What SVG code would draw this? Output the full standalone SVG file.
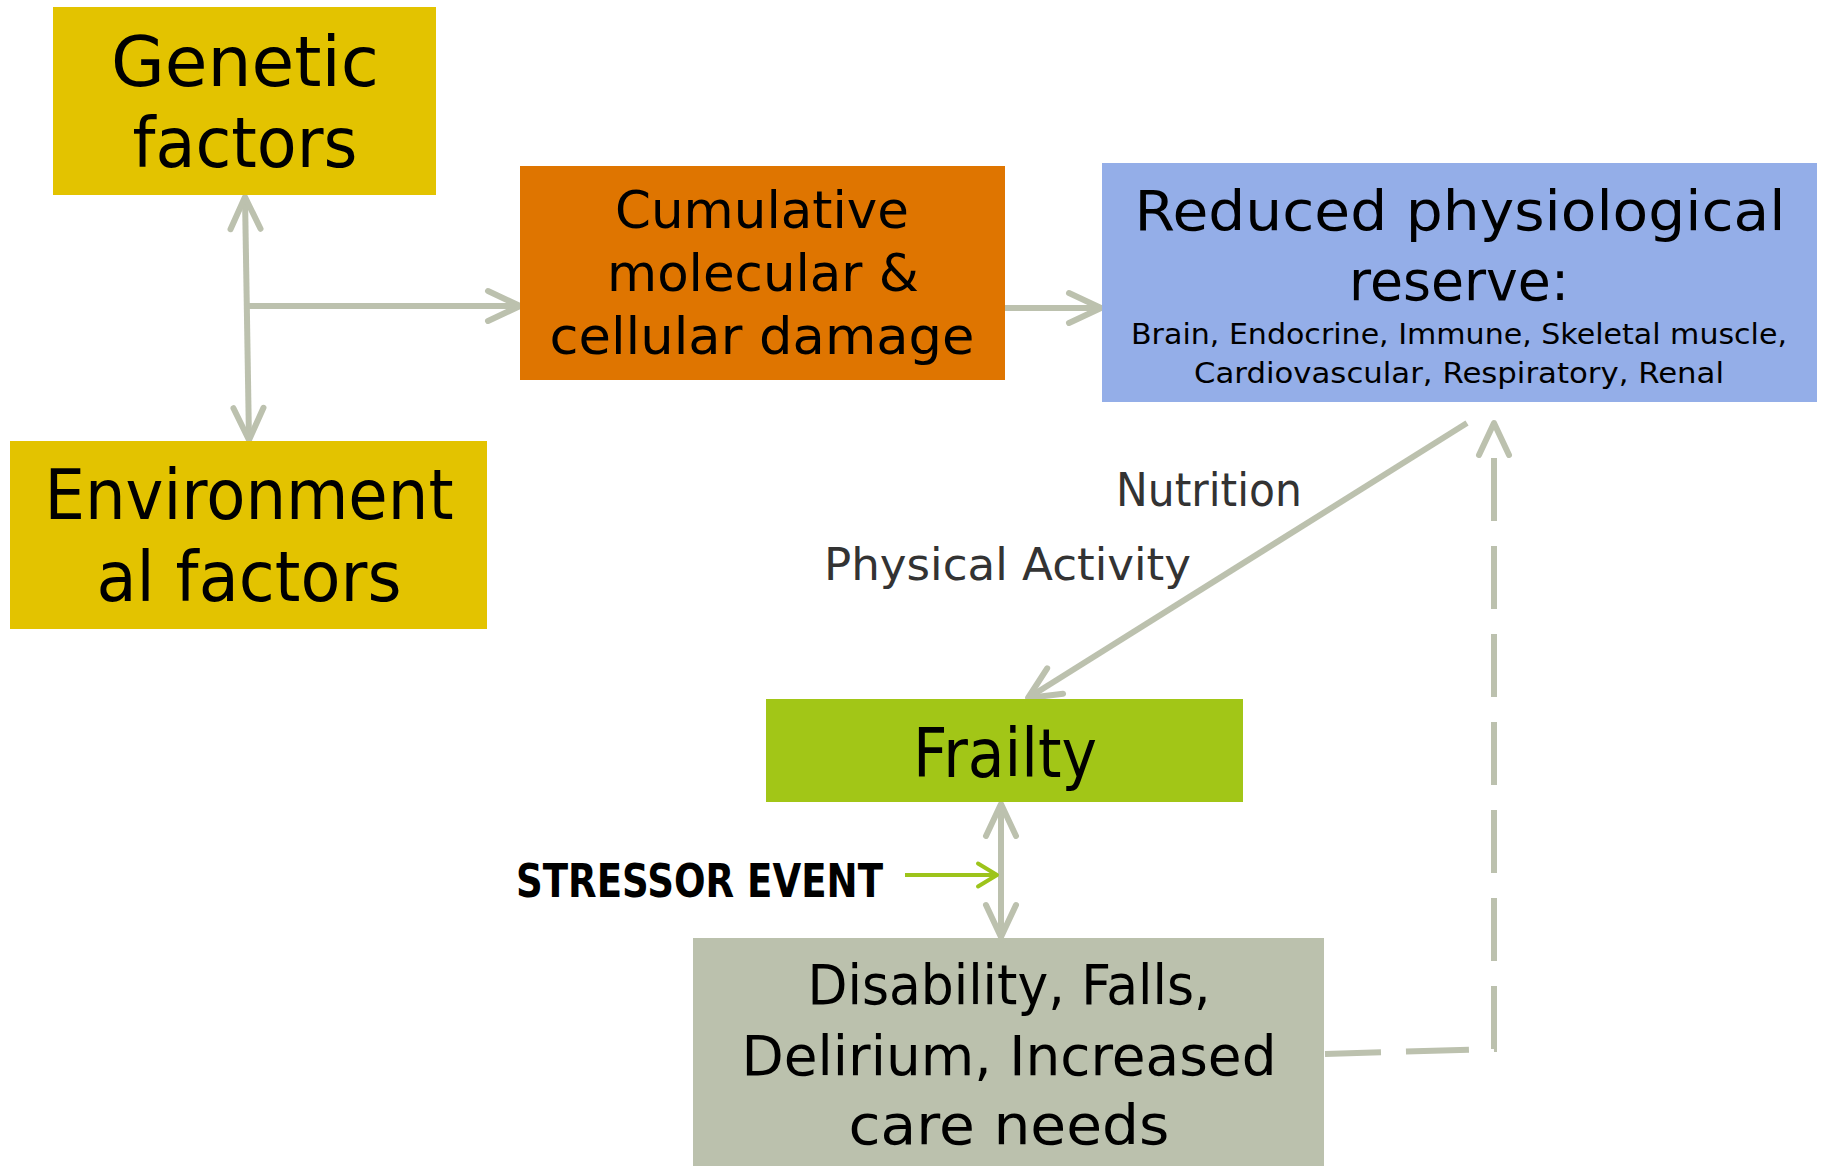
<svg xmlns="http://www.w3.org/2000/svg" width="1823" height="1166" viewBox="0 0 1823 1166">
<style>
  .t { font-family: "DejaVu Sans", "Liberation Sans", sans-serif; fill: #000; text-anchor: middle; }
  .lbl { font-family: "DejaVu Sans", "Liberation Sans", sans-serif; fill: #333; }
  .con { fill: none; stroke: #BCC1AE; stroke-width: 6; }
  .dash { stroke-dasharray: 63 25; stroke-dashoffset: 7; }
</style>
<defs>
  <marker id="arr" markerUnits="userSpaceOnUse" markerWidth="1" markerHeight="1" refX="0" refY="0" orient="auto-start-reverse" overflow="visible">
    <path d="M-32,-15 L0,0 L-32,15" fill="none" stroke="#BCC1AE" stroke-width="6" stroke-linecap="round" stroke-linejoin="round" stroke-dasharray="none"/>
  </marker>
  <marker id="arrD" markerUnits="userSpaceOnUse" markerWidth="1" markerHeight="1" refX="-11" refY="0" orient="auto" overflow="visible">
    <path d="M-32,-15 L0,0 L-32,15" fill="none" stroke="#BCC1AE" stroke-width="6" stroke-linecap="round" stroke-linejoin="round" stroke-dasharray="none"/>
  </marker>
  <marker id="arrG" markerUnits="userSpaceOnUse" markerWidth="1" markerHeight="1" refX="0" refY="0" orient="auto" overflow="visible">
    <path d="M-19,-11.5 L0,0 L-19,11.5" fill="none" stroke="#9DC41B" stroke-width="4" stroke-linecap="round" stroke-linejoin="round"/>
  </marker>
</defs>
<rect width="1823" height="1166" fill="#fff"/>

<g id="connectors">
  <path class="con" d="M245,197 L249,440" marker-start="url(#arr)" marker-end="url(#arr)"/>
  <path class="con" d="M249,306 L520,306" marker-end="url(#arr)"/>
  <path class="con" d="M1005,308 L1101,308" marker-end="url(#arr)"/>
  <path class="con" d="M1467,423 L1028,698" marker-end="url(#arr)"/>
  <path class="con" d="M1001,804 L1001,937" marker-start="url(#arr)" marker-end="url(#arr)"/>
  <path d="M905,875 L997,875" fill="none" stroke="#9DC41B" stroke-width="4" marker-end="url(#arrG)"/>
  <path class="con dash" d="M1325,1054 L1494,1049 L1494,434" marker-end="url(#arrD)"/>
</g>

<g id="genetic">
  <rect x="53" y="7" width="383" height="188" fill="#E3C300"/>
  <text class="t" x="245" y="86" font-size="70" textLength="268" lengthAdjust="spacingAndGlyphs">Genetic</text>
  <text class="t" x="245" y="167" font-size="70" textLength="225" lengthAdjust="spacingAndGlyphs">factors</text>
</g>

<g id="environmental">
  <rect x="10" y="441" width="477" height="188" fill="#E3C300"/>
  <text class="t" x="249" y="519" font-size="69" textLength="409" lengthAdjust="spacingAndGlyphs">Environment</text>
  <text class="t" x="249" y="601" font-size="69" textLength="305" lengthAdjust="spacingAndGlyphs">al factors</text>
</g>

<g id="cumulative">
  <rect x="520" y="166" width="485" height="214" fill="#DF7500"/>
  <text class="t" x="762" y="228" font-size="51" textLength="294" lengthAdjust="spacingAndGlyphs">Cumulative</text>
  <text class="t" x="763" y="291" font-size="51" textLength="312" lengthAdjust="spacingAndGlyphs">molecular &amp;</text>
  <text class="t" x="762" y="354" font-size="51" textLength="425" lengthAdjust="spacingAndGlyphs">cellular damage</text>
</g>

<g id="reduced">
  <rect x="1102" y="163" width="715" height="239" fill="#94AEE8"/>
  <text class="t" x="1460" y="230" font-size="56" textLength="651" lengthAdjust="spacingAndGlyphs">Reduced physiological</text>
  <text class="t" x="1459" y="300" font-size="56" textLength="220" lengthAdjust="spacingAndGlyphs">reserve:</text>
  <text class="t" x="1459" y="344" font-size="29" textLength="656" lengthAdjust="spacingAndGlyphs">Brain, Endocrine, Immune, Skeletal muscle,</text>
  <text class="t" x="1459" y="383" font-size="29" textLength="530" lengthAdjust="spacingAndGlyphs">Cardiovascular, Respiratory, Renal</text>
</g>

<g id="nutrition-label">
  <text class="lbl" x="1116" y="506" font-size="47" textLength="186" lengthAdjust="spacingAndGlyphs">Nutrition</text>
</g>
<g id="activity-label">
  <text class="lbl" x="824" y="580" font-size="45" textLength="367" lengthAdjust="spacingAndGlyphs">Physical Activity</text>
</g>

<g id="frailty">
  <rect x="766" y="699" width="477" height="103" fill="#A2C617"/>
  <text class="t" x="1005" y="777" font-size="67" textLength="184" lengthAdjust="spacingAndGlyphs">Frailty</text>
</g>

<g id="stressor">
  <text x="516" y="897" font-family="'DejaVu Sans', 'Liberation Sans', sans-serif" font-weight="bold" font-size="47" fill="#000" textLength="367" lengthAdjust="spacingAndGlyphs">STRESSOR EVENT</text>
</g>

<g id="disability">
  <rect x="693" y="938" width="631" height="228" fill="#BBC1AD"/>
  <text class="t" x="1009" y="1004" font-size="56" textLength="403" lengthAdjust="spacingAndGlyphs">Disability, Falls,</text>
  <text class="t" x="1009" y="1075" font-size="56" textLength="535" lengthAdjust="spacingAndGlyphs">Delirium, Increased</text>
  <text class="t" x="1009" y="1144" font-size="56" textLength="321" lengthAdjust="spacingAndGlyphs">care needs</text>
</g>
</svg>
